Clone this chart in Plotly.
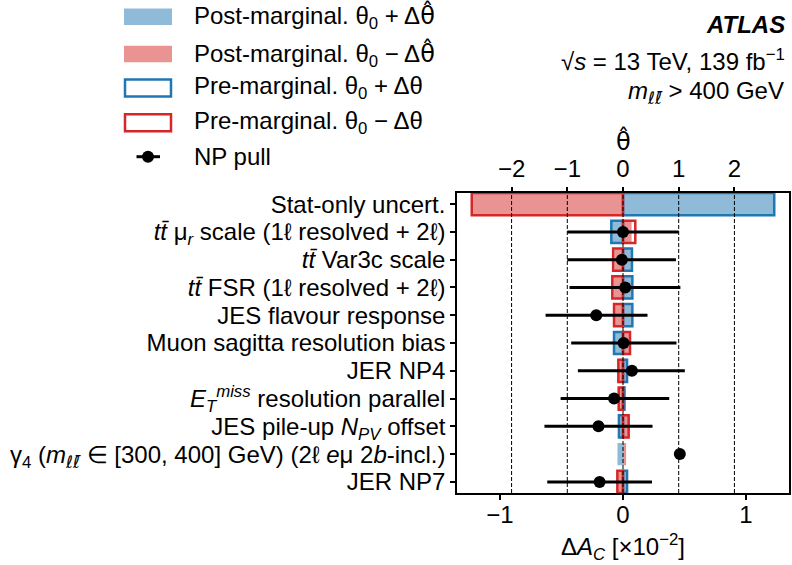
import plotly.graph_objects as go

# ---------------- data ----------------
HAT = "<span style='font-family:DejaVu Sans'>\u03b8\u0302</span>"
LLB = "<span style='font-family:DejaVu Sans'>\u2113\u2113\u0304</span>"
labels = [
    "Stat-only uncert.",
    "<i>tt\u0304</i> \u03bc<sub><i>r</i></sub> scale (1\u2113 resolved + 2\u2113)",
    "<i>tt\u0304</i> Var3c scale",
    "<i>tt\u0304</i> FSR (1\u2113 resolved + 2\u2113)",
    "JES flavour response",
    "Muon sagitta resolution bias",
    "JER NP4",
    "<i>E</i><sub><i>T</i></sub><sup><i>miss</i></sup> resolution parallel",
    "JES pile-up <i>N</i><sub><i>PV</i></sub> offset",
    "\u03b3<sub>4</sub> (<i>m</i><sub><i>" + LLB + "</i></sub> \u2208 [300, 400] GeV) (2\u2113 <i>e</i>\u03bc 2<i>b</i>-incl.)",
    "JER NP7",
]
post_plus = [1.23, -0.09, 0.065, 0.07, 0.07, -0.065, 0.03, 0.01, -0.03, -0.045, 0.03]
post_minus = [-1.23, 0.07, -0.07, -0.08, -0.065, 0.05, -0.035, -0.032, 0.042, 0.025, -0.042]
pre_plus = [1.23, -0.095, 0.073, 0.076, 0.076, -0.073, 0.033, 0.012, -0.033, None, 0.033]
pre_minus = [-1.23, 0.10, -0.08, -0.087, -0.073, 0.057, -0.038, -0.035, 0.046, None, -0.046]
pulls = [None, 0.0, -0.02, 0.04, -0.48, 0.01, 0.16, -0.16, -0.44, 1.02, -0.42]
pull_err_hi = [0, 1.0, 0.97, 0.99, 0.92, 0.95, 0.95, 0.99, 0.97, 0, 0.94]
pull_err_lo = [0, 1.0, 0.98, 1.0, 0.91, 0.94, 0.97, 0.96, 0.97, 0, 0.94]
dac_ticks = [-1, 0, 1]
theta_ticks = [-2, -1, 0, 1, 2]

BLUE = "#1f77b4"
RED = "#d62728"
BLUE_F = "rgba(31,119,180,0.5)"
RED_F = "rgba(214,39,40,0.5)"
FONT = "Liberation Sans"
FS = 24

W, H = 792, 565
L, R, T, B = 457, 3, 193, 72
PW, PH = W - L - R, H - T - B


def px(xp):
    return (xp - L) / PW


def py(yp):
    return (H - B - yp) / PH


fig = go.Figure()
fig.add_trace(go.Bar(y=labels, x=post_plus, orientation="h", width=0.8,
                     marker=dict(color=BLUE_F, line=dict(width=0)), showlegend=False))
fig.add_trace(go.Bar(y=labels, x=post_minus, orientation="h", width=0.8,
                     marker=dict(color=RED_F, line=dict(width=0)), showlegend=False))
fig.add_trace(go.Bar(y=labels, x=pre_plus, orientation="h", width=0.8,
                     marker=dict(color="rgba(0,0,0,0)", line=dict(color=BLUE, width=2.5)),
                     showlegend=False))
fig.add_trace(go.Bar(y=labels, x=pre_minus, orientation="h", width=0.8,
                     marker=dict(color="rgba(0,0,0,0)", line=dict(color=RED, width=2.5)),
                     showlegend=False))
fig.add_trace(go.Scatter(y=labels, x=pulls, xaxis="x2", mode="markers",
                         marker=dict(color="black", size=12),
                         error_x=dict(type="data", symmetric=False, array=pull_err_hi,
                                      arrayminus=pull_err_lo, color="black",
                                      thickness=3, width=0),
                         showlegend=False))

for t in theta_ticks:
    fig.add_shape(type="line", xref="x2", yref="paper", x0=t, x1=t, y0=0, y1=1,
                  line=dict(color="black", width=1, dash="4px,2px"), layer="above")

# ---- manual legend ----
leg_rows = [16.7, 54, 88, 122.7, 156.7]
leg_text = [
    "Post-marginal. \u03b8<sub>0</sub> + \u0394" + HAT,
    "Post-marginal. \u03b8<sub>0</sub> \u2212 \u0394" + HAT,
    "Pre-marginal. \u03b8<sub>0</sub> + \u0394\u03b8",
    "Pre-marginal. \u03b8<sub>0</sub> \u2212 \u0394\u03b8",
    "NP pull",
]
x0p, x1p = 124, 172
fig.add_shape(type="rect", xref="paper", yref="paper", x0=px(x0p), x1=px(x1p),
              y0=py(leg_rows[0] + 8.3), y1=py(leg_rows[0] - 8.3),
              fillcolor=BLUE_F, line=dict(width=0))
fig.add_shape(type="rect", xref="paper", yref="paper", x0=px(x0p), x1=px(x1p),
              y0=py(leg_rows[1] + 8.3), y1=py(leg_rows[1] - 8.3),
              fillcolor=RED_F, line=dict(width=0))
fig.add_shape(type="rect", xref="paper", yref="paper", x0=px(x0p + 1), x1=px(x1p - 1),
              y0=py(leg_rows[2] + 8.5), y1=py(leg_rows[2] - 8.5),
              fillcolor="white", line=dict(color=BLUE, width=2.5))
fig.add_shape(type="rect", xref="paper", yref="paper", x0=px(x0p + 1), x1=px(x1p - 1),
              y0=py(leg_rows[3] + 8.5), y1=py(leg_rows[3] - 8.5),
              fillcolor="white", line=dict(color=RED, width=2.5))
fig.add_shape(type="line", xref="paper", yref="paper", x0=px(136.5), x1=px(160),
              y0=py(leg_rows[4]), y1=py(leg_rows[4]), line=dict(color="black", width=3))
fig.add_shape(type="circle", xref="paper", yref="paper", x0=px(148 - 6), x1=px(148 + 6),
              y0=py(leg_rows[4] + 6), y1=py(leg_rows[4] - 6),
              fillcolor="black", line=dict(width=0))
for yy, tx in zip(leg_rows, leg_text):
    fig.add_annotation(xref="paper", yref="paper", x=px(192), y=py(yy), text=tx,
                       showarrow=False, xanchor="left", yanchor="middle",
                       font=dict(family=FONT, size=FS, color="black"))

# ---- ATLAS label ----
fig.add_annotation(xref="paper", yref="paper", x=px(787), y=py(24.5),
                   text="<b><i>ATLAS</i></b>", showarrow=False, xanchor="right",
                   yanchor="middle", font=dict(family=FONT, size=FS, color="black"))
fig.add_annotation(xref="paper", yref="paper", x=px(787), y=py(60),
                   text="\u221a<i>s</i> = 13 TeV, 139 fb<sup>\u22121</sup>", showarrow=False,
                   xanchor="right", yanchor="middle",
                   font=dict(family=FONT, size=FS, color="black"))
fig.add_annotation(xref="paper", yref="paper", x=px(786), y=py(92),
                   text="<i>m</i><sub><i>" + LLB + "</i></sub> > 400 GeV", showarrow=False,
                   xanchor="right", yanchor="middle",
                   font=dict(family=FONT, size=FS, color="black"))

# ---- axis titles ----
fig.add_annotation(xref="x", yref="paper", x=0, y=py(547),
                   text="\u0394<i>A</i><sub><i>C</i></sub> [\u00d710<sup>\u22122</sup>]",
                   showarrow=False, xanchor="center", yanchor="middle",
                   font=dict(family=FONT, size=FS, color="black"))
fig.add_annotation(xref="x2", yref="paper", x=0, y=py(141),
                   text=HAT, showarrow=False, xanchor="center", yanchor="middle",
                   font=dict(family=FONT, size=FS, color="black"))

fig.update_layout(
    width=W, height=H,
    margin=dict(l=L, r=R, t=T, b=B, pad=0),
    template="none",
    paper_bgcolor="white", plot_bgcolor="white",
    barmode="overlay",
    font=dict(family=FONT, size=FS, color="black"),
    showlegend=False,
    xaxis=dict(range=[-1.35, 1.35], tickvals=dac_ticks, ticks="outside", ticklen=5,
               tickwidth=1.5, tickcolor="black", showline=True, linecolor="black",
               linewidth=1.5, mirror=True, showgrid=False, zeroline=False,
               automargin=False, ticklabelstandoff=-6),
    xaxis2=dict(range=[-2.98, 2.98], overlaying="x", side="top", tickvals=theta_ticks,
                ticks="outside", ticklen=5, tickwidth=1.5, tickcolor="black",
                showline=False, showgrid=False, zeroline=False, automargin=False),
    yaxis=dict(type="category", categoryorder="array", categoryarray=labels,
               tickmode="array", tickvals=labels, ticktext=labels,
               range=[len(labels) - 0.6, -0.4], ticks="outside", ticklen=5,
               tickwidth=1.5, tickcolor="black", showline=True, linecolor="black",
               linewidth=1.5, mirror=True, showgrid=False, zeroline=False,
               automargin=False),
)

fig.write_html("out.html", config={"displayModeBar": False},
               post_script="document.body.style.margin='0px';document.body.style.overflow='hidden';")
